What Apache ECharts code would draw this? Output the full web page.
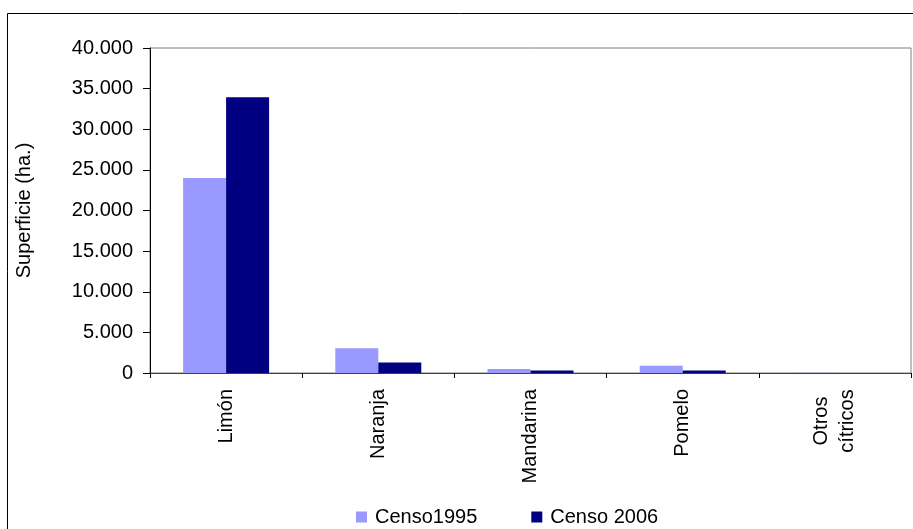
<!DOCTYPE html>
<html>
<head>
<meta charset="utf-8">
<script src="https://cdn.jsdelivr.net/npm/echarts@6/dist/echarts.min.js"></script>
<style>
html,body{margin:0;padding:0;background:#fff;}
#chart{width:913px;height:529px;}
</style>
</head>
<body>
<div id="chart"></div>
<script>
const categories = ['Limón', 'Naranja', 'Mandarina', 'Pomelo', 'Otros\ncítricos'];
const censo1995 = [24000, 3050, 480, 900, 20];
const censo2006 = [33950, 1300, 300, 300, 10];
const seriesNames = ['Censo1995', 'Censo 2006'];
const yTicks = [0, 5000, 10000, 15000, 20000, 25000, 30000, 35000, 40000];

const FONT = "'Liberation Sans', Arial, sans-serif";
function fmt(v) {
  if (v === 0) return '0';
  const s = String(Math.round(v));
  return s.replace(/\B(?=(\d{3})+(?!\d))/g, '.');
}

const chart = echarts.init(document.getElementById('chart'), null, {renderer: 'canvas'});
chart.setOption({
  animation: false,
  backgroundColor: '#ffffff',
  textStyle: {fontFamily: FONT, color: '#000'},
  graphic: [{
    type: 'rect',
    shape: {x: 7.5, y: 13.5, width: 1000, height: 1000},
    style: {fill: 'none', stroke: '#000', lineWidth: 1},
    silent: true,
    z: -10
  }],
  grid: {
    left: 150, top: 48, right: 2, bottom: 156,
    show: true, borderColor: '#808080', borderWidth: 1, backgroundColor: 'transparent'
  },
  legend: {
    left: 351, top: 502,
    itemWidth: 11, itemHeight: 11, itemGap: 54,
    icon: 'rect',
    data: seriesNames,
    textStyle: {fontFamily: FONT, fontSize: 20, color: '#000', padding: [0, 0, 0, 3]}
  },
  xAxis: {
    type: 'category',
    data: categories,
    boundaryGap: true,
    axisLine: {show: true, lineStyle: {color: '#404040', width: 1}},
    axisTick: {show: true, length: 5, alignWithLabel: false, lineStyle: {color: '#000'}},
    axisLabel: {
      interval: 0, rotate: 90, margin: 16,
      fontFamily: FONT, fontSize: 20, color: '#000', lineHeight: 26,
      formatter: function (v) {
        if (v.indexOf('\n') < 0) return v;
        return v.split('\n').map(s => '{a|' + s + '}').join('\n');
      },
      rich: {a: {fontFamily: FONT, fontSize: 20, color: '#000', width: 64, align: 'center', lineHeight: 26}}
    },
    splitLine: {show: false}
  },
  yAxis: {
    type: 'value',
    min: 0, max: 40000, interval: 5000,
    name: 'Superficie (ha.)',
    nameLocation: 'middle',
    nameRotate: 90,
    nameGap: 116,
    nameTextStyle: {fontFamily: FONT, fontSize: 20, color: '#000'},
    axisLine: {show: true, lineStyle: {color: '#000', width: 1}},
    axisTick: {show: true, length: 7, inside: false, lineStyle: {color: '#000'}},
    axisLabel: {
      margin: 17, fontFamily: FONT, fontSize: 20, color: '#000',
      formatter: function (v) { return yTicks.indexOf(v) >= 0 ? fmt(v) : ''; }
    },
    splitLine: {show: false}
  },
  series: [
    {
      name: seriesNames[0], type: 'bar', data: censo1995,
      barGap: '0%', barCategoryGap: '43.5%',
      itemStyle: {color: '#9999FF'}
    },
    {
      name: seriesNames[1], type: 'bar', data: censo2006,
      barGap: '0%', barCategoryGap: '43.5%',
      itemStyle: {color: '#000080'}
    }
  ]
});
</script>
</body>
</html>
